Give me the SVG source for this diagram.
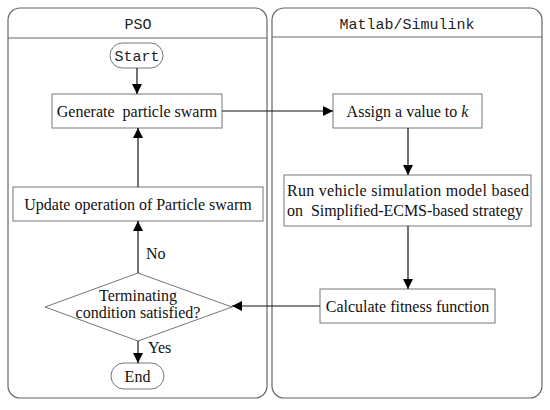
<svg xmlns="http://www.w3.org/2000/svg" width="550" height="410" viewBox="0 0 550 410">
<style>
.panel{fill:#fff;stroke:#666;stroke-width:1.2}
.box{fill:#fff;stroke:#777;stroke-width:1}
.t{font-family:"Liberation Serif","Times New Roman",serif;font-size:16px;fill:#111}
.m{font-family:"Liberation Mono","Courier New",monospace;font-size:15px;fill:#222}
.c{stroke:#111;stroke-width:1.2;fill:none}
</style>
<defs>
<marker id="ah" viewBox="0 0 10 10" refX="10" refY="5" markerWidth="11" markerHeight="10" markerUnits="userSpaceOnUse" orient="auto">
<path d="M0,0 L10,5 L0,10 Z" fill="#000"/>
</marker>
</defs>
<rect width="550" height="410" fill="#fff"/>
<g id="panel-pso">
<rect class="panel" x="8" y="8" width="259" height="390" rx="12"/>
<line x1="8" y1="38" x2="267" y2="38" stroke="#666" stroke-width="1"/>
<text class="m" x="138" y="29" text-anchor="middle">PSO</text>
</g>
<g id="panel-matlab">
<rect class="panel" x="272" y="8" width="270" height="390" rx="12"/>
<line x1="272" y1="37" x2="542" y2="37" stroke="#666" stroke-width="1"/>
<text class="m" x="407" y="29" text-anchor="middle">Matlab/Simulink</text>
</g>
<g id="start">
<rect class="box" x="110" y="43" width="53" height="25" rx="12.5"/>
<text class="m" x="137" y="61" text-anchor="middle">Start</text>
</g>
<g id="generate">
<rect class="box" x="52" y="94" width="170" height="34"/>
<text class="t" x="137" y="117" text-anchor="middle" xml:space="preserve">Generate  particle swarm</text>
</g>
<g id="assign">
<rect class="box" x="333" y="94" width="149" height="34"/>
<text class="t" x="407.5" y="117" text-anchor="middle">Assign a value to <tspan font-style="italic">k</tspan></text>
</g>
<g id="run">
<rect class="box" x="284" y="175" width="247" height="51"/>
<text class="t" x="287" y="196" textLength="242" lengthAdjust="spacing" xml:space="preserve">Run vehicle simulation model based</text>
<text class="t" x="287" y="216" textLength="236" lengthAdjust="spacing" xml:space="preserve">on  Simplified-ECMS-based strategy</text>
</g>
<g id="calculate">
<rect class="box" x="320" y="289" width="175" height="34"/>
<text class="t" x="407.5" y="312" text-anchor="middle">Calculate fitness function</text>
</g>
<g id="update">
<rect class="box" x="13" y="187" width="250" height="34"/>
<text class="t" x="138" y="210" text-anchor="middle">Update operation of Particle swarm</text>
</g>
<g id="decision">
<polygon class="box" points="138,273 232,307 138,341 45,307"/>
<text class="t" x="138" y="301" text-anchor="middle">Terminating</text>
<text class="t" x="138" y="318" text-anchor="middle">condition satisfied?</text>
</g>
<g id="end">
<rect class="box" x="111" y="363" width="53" height="26" rx="13"/>
<text class="t" x="137.5" y="382" text-anchor="middle">End</text>
</g>
<g id="connectors">
<line class="c" x1="137" y1="68" x2="137" y2="94" marker-end="url(#ah)"/>
<line class="c" x1="222" y1="111" x2="333" y2="111" marker-end="url(#ah)"/>
<line class="c" x1="408" y1="128" x2="408" y2="175" marker-end="url(#ah)"/>
<line class="c" x1="408" y1="226" x2="408" y2="289" marker-end="url(#ah)"/>
<line class="c" x1="320" y1="306" x2="232" y2="306" marker-end="url(#ah)"/>
<line class="c" x1="138" y1="273" x2="138" y2="221" marker-end="url(#ah)"/>
<line class="c" x1="138" y1="187" x2="138" y2="128" marker-end="url(#ah)"/>
<line class="c" x1="138" y1="341" x2="138" y2="363" marker-end="url(#ah)"/>
<text class="t" x="146" y="259">No</text>
<text class="t" x="148" y="353">Yes</text>
</g>
</svg>
